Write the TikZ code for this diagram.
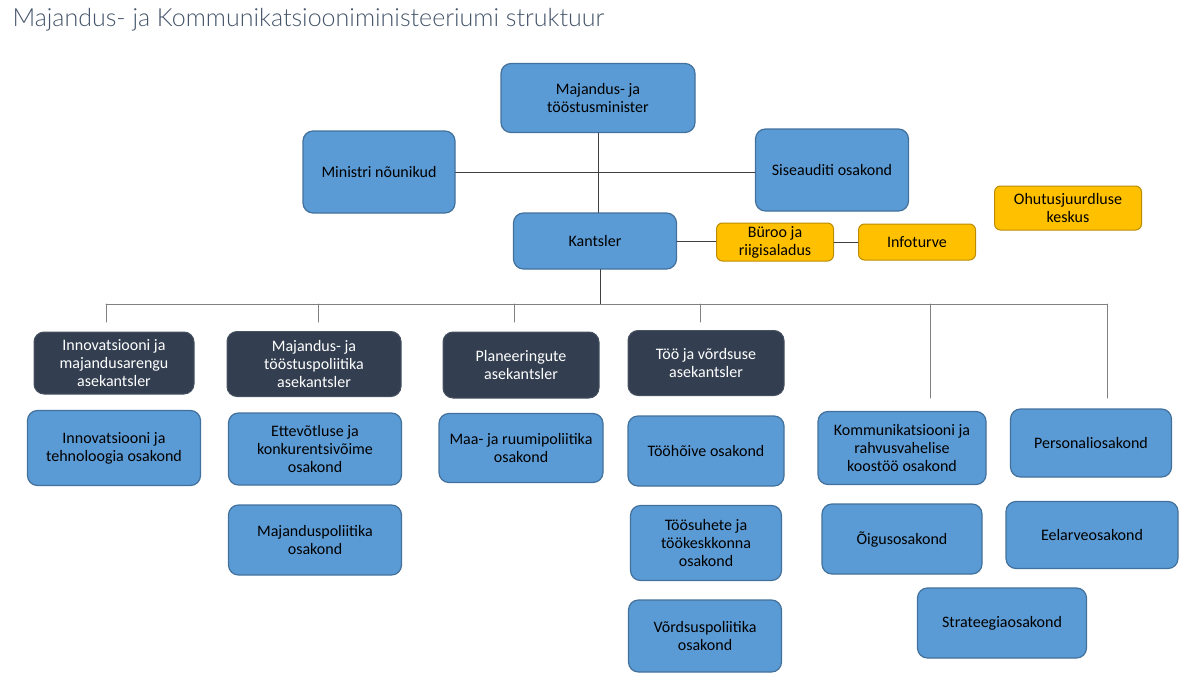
\documentclass[tikz,border=0pt]{standalone}
\usepackage{fontspec}
\setmainfont{Carlito}
\newfontfamily\titlefont{Lato Light}
\definecolor{boxblue}{HTML}{5B9BD5}
\definecolor{boxblueline}{HTML}{41719C}
\definecolor{boxdark}{HTML}{333F50}
\definecolor{boxyellow}{HTML}{FFC000}
\definecolor{boxyellowline}{HTML}{BC8C00}
\definecolor{titleblue}{HTML}{44546A}
\begin{document}
\begin{tikzpicture}[x=1pt,y=-1pt,line cap=round,line join=round,font=\fontsize{16}{18}\selectfont]
				\tikzset{unit/.style={draw=boxblueline,fill=boxblue,line width=1.2pt,rounded corners=10pt,align=center,inner sep=0pt},
					deputy/.style={draw=boxdark!90!white,fill=boxdark,text=white,line width=1pt,rounded corners=10pt,align=center,inner sep=0pt},
					office/.style={draw=boxyellowline,fill=boxyellow,line width=1pt,rounded corners=6pt,align=center,inner sep=0pt},
					link/.style={draw=black!75,line width=0.9pt},
					buslink/.style={draw=black!50,line width=1pt}}
				\useasboundingbox (0,0) rectangle (1200,688);
				\node[anchor=base west,text=titleblue,font=\titlefont\fontsize{25}{28}\selectfont] (title) at (9,27) {Majandus- ja Kommunikatsiooniministeeriumi struktuur};
				% juhtkond
				\node[unit,minimum width=194pt,minimum height=69pt] (min) at (598,98) {Majandus- ja\\tööstusminister};
				\node[unit,minimum width=152pt,minimum height=82pt] (noun) at (379,172) {Ministri nõunikud};
				\node[unit,minimum width=153pt,minimum height=82pt] (sise) at (832,170) {Siseauditi osakond};
				\node[unit,minimum width=163pt,minimum height=56pt] (kan) at (595,241) {Kantsler};
				\node[office,minimum width=117pt,minimum height=38pt] (buroo) at (775,242) {Büroo ja\\riigisaladus};
				\node[office,minimum width=117pt,minimum height=36pt] (info) at (917,242) {Infoturve};
				\node[office,minimum width=147pt,minimum height=44pt] (ohutus) at (1068,208) {Ohutusjuurdluse\\keskus};
				% asekantslerid
				\node[deputy,minimum width=160pt,minimum height=62pt] (ak1) at (114,363) {Innovatsiooni ja\\majandusarengu\\asekantsler};
				\node[deputy,minimum width=174pt,minimum height=65pt] (ak2) at (314,364) {Majandus- ja\\tööstuspoliitika\\asekantsler};
				\node[deputy,minimum width=156pt,minimum height=66pt] (ak3) at (521,365) {Planeeringute\\asekantsler};
				\node[deputy,minimum width=156pt,minimum height=65pt] (ak4) at (706,363) {Töö ja võrdsuse\\asekantsler};
				% osakonnad
				\node[unit,minimum width=173pt,minimum height=75pt] (itos) at (114,448) {Innovatsiooni ja\\tehnoloogia osakond};
				\node[unit,minimum width=173pt,minimum height=72pt] (ekos) at (315,449) {Ettevõtluse ja\\konkurentsivõime\\osakond};
				\node[unit,minimum width=173pt,minimum height=70pt] (mpos) at (315,540) {Majanduspoliitika\\osakond};
				\node[unit,minimum width=164pt,minimum height=69pt] (rpos) at (521,448) {Maa- ja ruumipoliitika\\osakond};
				\node[unit,minimum width=156pt,minimum height=70pt] (thos) at (706,451) {Tööhõive osakond};
				\node[unit,minimum width=151pt,minimum height=75pt] (tsos) at (706,543) {Töösuhete ja\\töökeskkonna\\osakond};
				\node[unit,minimum width=153pt,minimum height=72pt] (vpos) at (705,636) {Võrdsuspoliitika\\osakond};
				\node[unit,minimum width=168pt,minimum height=73pt] (kros) at (902,448) {Kommunikatsiooni ja\\rahvusvahelise\\koostöö osakond};
				\node[unit,minimum width=160pt,minimum height=70pt] (oios) at (902,539) {Õigusosakond};
				\node[unit,minimum width=169pt,minimum height=70pt] (stos) at (1002,623) {Strateegiaosakond};
				\node[unit,minimum width=161pt,minimum height=68pt] (peos) at (1091,443) {Personaliosakond};
				\node[unit,minimum width=172pt,minimum height=67pt] (eeos) at (1092,535) {Eelarveosakond};
				% ühendused
				\draw[link] (min.south) -- (min.south |- kan.north);
				\draw[link] (noun.east) -- (noun.east -| sise.west);
				\draw[link] (kan.east) -- (kan.east -| buroo.west);
				\draw[link] (buroo.east) -- (buroo.east -| info.west);
				\coordinate (bus) at (600,304);
				\draw[link] (kan.south -| bus) -- (bus);
				\foreach\n/\x/\y in {d1/106/322,d2/318/322,d3/514/322,d4/700/322,d5/930/398,d6/1107/398} \coordinate (\n) at (\x,\y);
				\draw[buslink] (bus -| d1) -- (bus -| d6);
				\foreach\n in {d1,d2,d3,d4,d5,d6} \draw[buslink] (bus -| \n) -- (\n);
			\end{tikzpicture}
\end{document}
